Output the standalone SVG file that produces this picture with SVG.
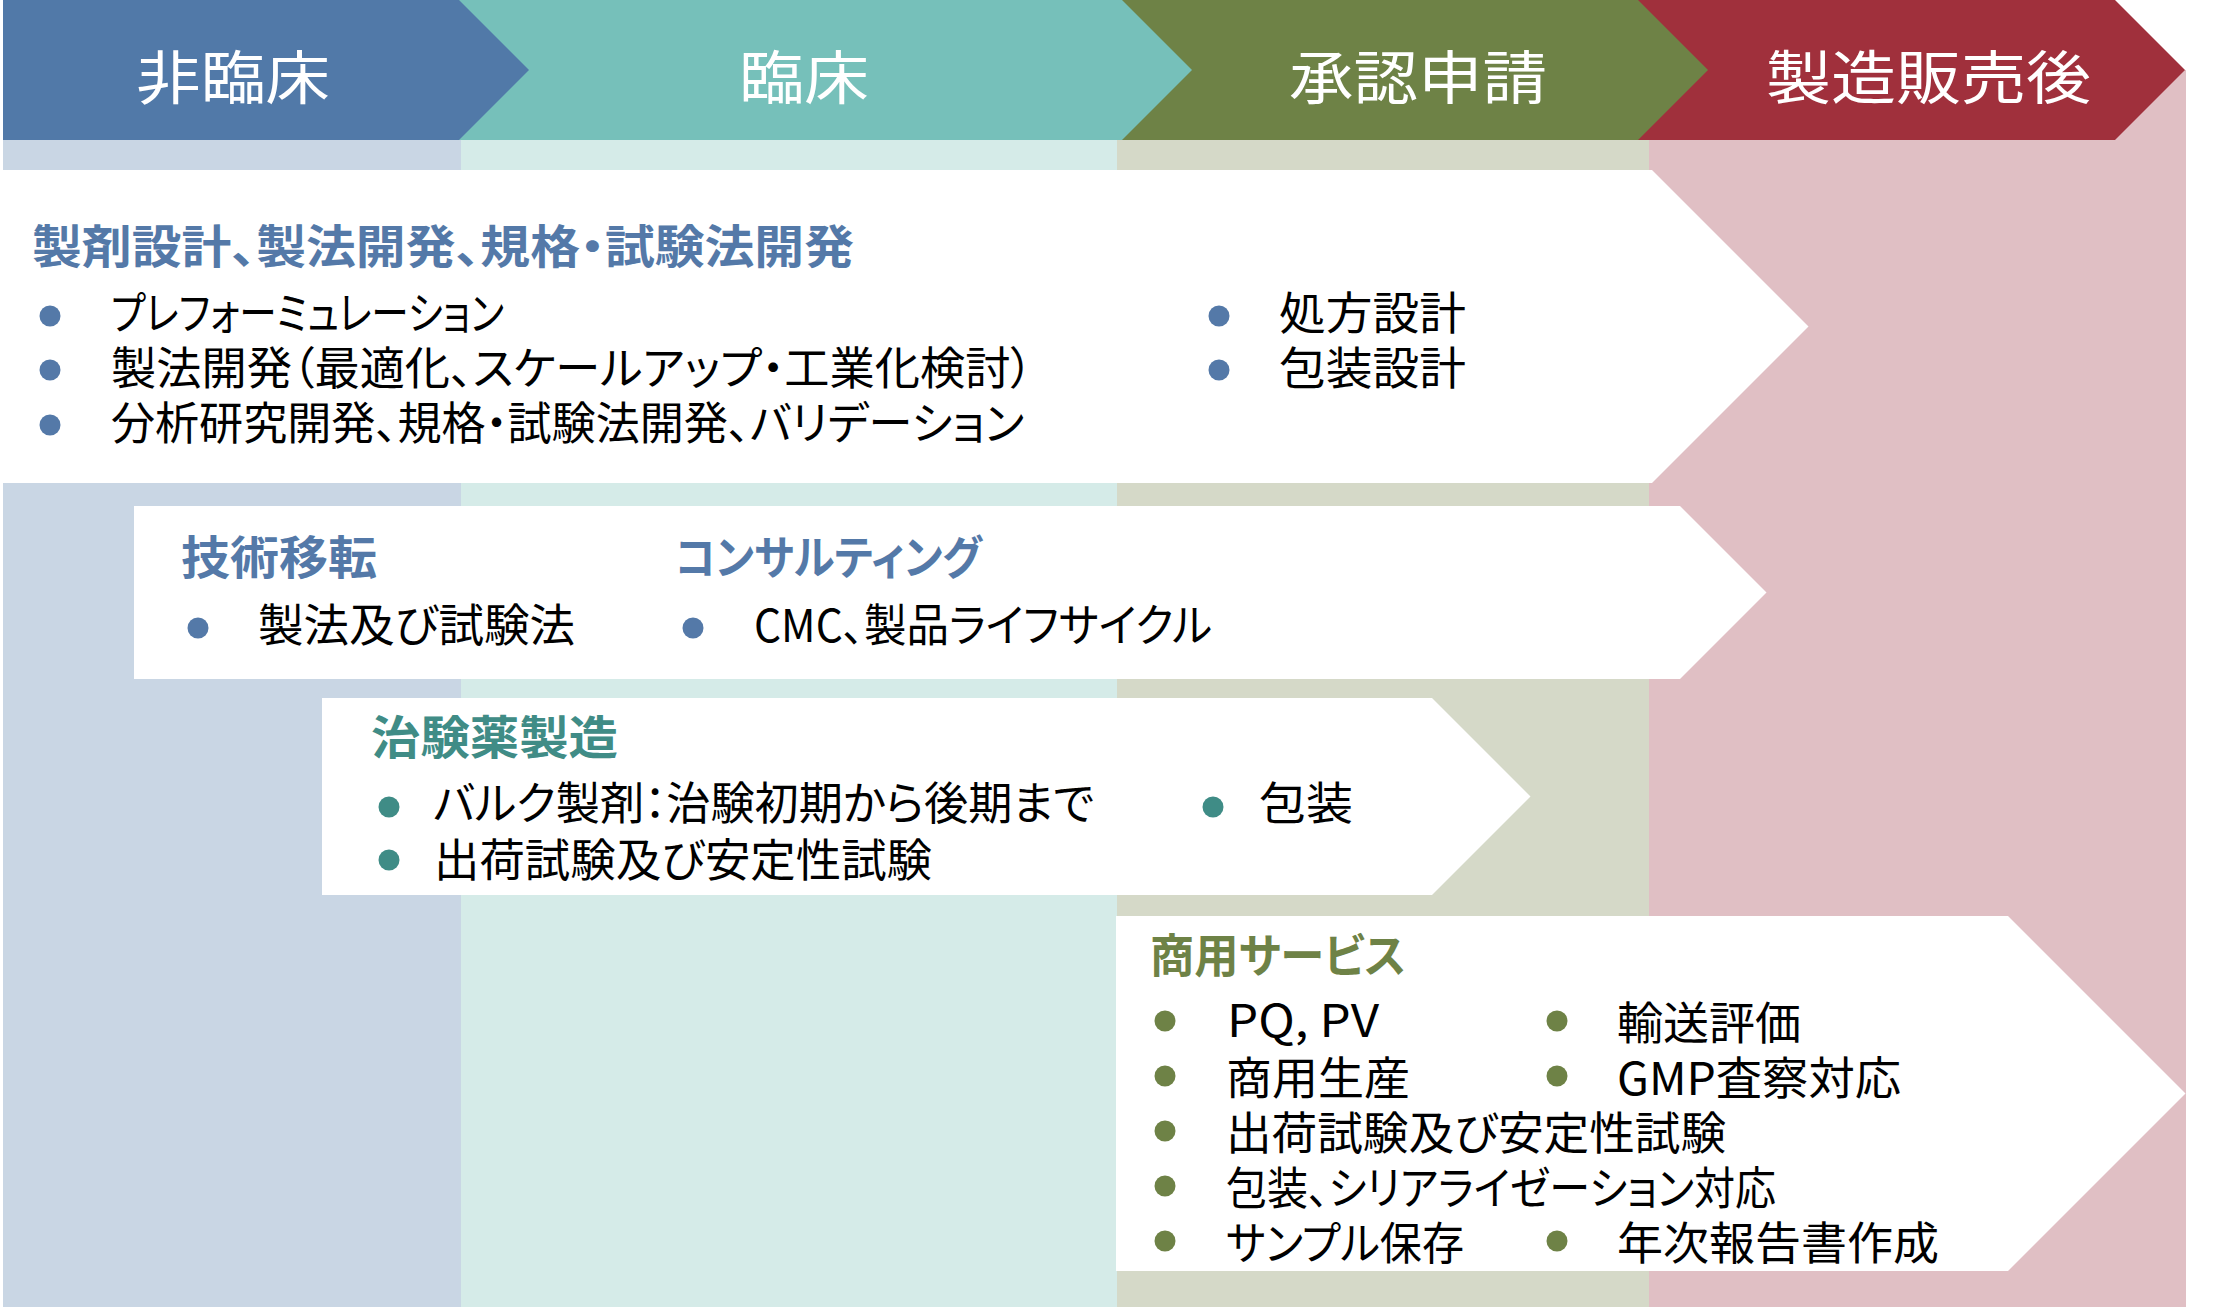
<svg xmlns="http://www.w3.org/2000/svg" width="2216" height="1307" viewBox="0 0 2216 1307">
<style>
text{font-family:"Noto Sans CJK JP","Noto Sans",sans-serif;font-feature-settings:"palt";}
.hd{font-size:58px;fill:#ffffff;}
.ttl{font-size:46px;font-weight:bold;}
.tb{fill:#5479A8;}
.tt{fill:#408C86;}
.to{fill:#6E8246;}
.bd{font-size:45px;fill:#000000;}
.db{fill:#5479A8;}
.dt{fill:#3F8C86;}
.do{fill:#6E8246;}
.box{fill:#ffffff;}
</style>
<rect width="2216" height="1307" fill="#ffffff"/>
<g id="columns">
<rect x="3" y="140" width="458" height="1167" fill="#C9D6E4"/>
<rect x="461" y="140" width="656" height="1167" fill="#D5EBE8"/>
<rect x="1117" y="140" width="532" height="1167" fill="#D5D9C8"/>
<rect x="1649" y="70" width="537" height="1237" fill="#E0BFC4"/>
</g>
<g id="header">
<g id="phase-postmarket">
<path d="M1638,0 H2115 L2185,70 L2115,140 H1638 Z" fill="#A0303C"/>
<text class="hd" x="1766" y="99" textLength="325" lengthAdjust="spacingAndGlyphs">製造販売後</text>
</g>
<g id="phase-approval">
<path d="M1122,0 H1638 L1708,70 L1638,140 H1122 Z" fill="#6E8246"/>
<text class="hd" x="1289" y="99" textLength="258" lengthAdjust="spacingAndGlyphs">承認申請</text>
</g>
<g id="phase-clinical">
<path d="M459,0 H1122 L1192,70 L1122,140 H459 Z" fill="#76C0BA"/>
<text class="hd" x="739" y="99" textLength="130" lengthAdjust="spacingAndGlyphs">臨床</text>
</g>
<g id="phase-nonclinical">
<path d="M3,0 H459 L529,70 L459,140 H3 Z" fill="#5179A8"/>
<text class="hd" x="136" y="99" textLength="194" lengthAdjust="spacingAndGlyphs">非臨床</text>
</g>
</g>
<g id="box-formulation">
<path class="box" d="M3,170 H1652 L1808.5,326.5 L1652,483 H3 Z"/>
<text class="ttl tb" x="32" y="263" textLength="822" lengthAdjust="spacingAndGlyphs">製剤設計、製法開発、規格・試験法開発</text>
<circle class="db" cx="50" cy="316" r="10.5"/>
<circle class="db" cx="50" cy="370" r="10.5"/>
<circle class="db" cx="50" cy="425" r="10.5"/>
<text class="bd" x="111" y="330" textLength="393" lengthAdjust="spacingAndGlyphs">プレフォーミュレーション</text>
<text class="bd" x="111" y="385" textLength="922" lengthAdjust="spacingAndGlyphs">製法開発（最適化、スケールアップ・工業化検討）</text>
<text class="bd" x="111" y="440" textLength="913" lengthAdjust="spacingAndGlyphs">分析研究開発、規格・試験法開発、バリデーション</text>
<circle class="db" cx="1219" cy="316" r="10.5"/>
<circle class="db" cx="1219" cy="370" r="10.5"/>
<text class="bd" x="1279" y="330" textLength="187" lengthAdjust="spacingAndGlyphs">処方設計</text>
<text class="bd" x="1279" y="385" textLength="187" lengthAdjust="spacingAndGlyphs">包装設計</text>
</g>
<g id="box-transfer">
<path class="box" d="M134,506 H1680 L1766.5,592.5 L1680,679 H134 Z"/>
<text class="ttl tb" x="181" y="574" textLength="196" lengthAdjust="spacingAndGlyphs">技術移転</text>
<text class="ttl tb" x="675" y="574" textLength="307" lengthAdjust="spacingAndGlyphs">コンサルティング</text>
<circle class="db" cx="198" cy="628" r="10.5"/>
<circle class="db" cx="693" cy="628" r="10.5"/>
<text class="bd" x="258" y="642" textLength="317" lengthAdjust="spacingAndGlyphs">製法及び試験法</text>
<text class="bd" x="754" y="642" textLength="458" lengthAdjust="spacingAndGlyphs">CMC、製品ライフサイクル</text>
</g>
<g id="box-clinical-supply">
<path class="box" d="M322,698 H1432 L1530.5,796.5 L1432,895 H322 Z"/>
<text class="ttl tt" x="371" y="754" textLength="247" lengthAdjust="spacingAndGlyphs">治験薬製造</text>
<circle class="dt" cx="389" cy="807" r="10.5"/>
<circle class="dt" cx="389" cy="860" r="10.5"/>
<text class="bd" x="433" y="820" textLength="661" lengthAdjust="spacingAndGlyphs">バルク製剤：治験初期から後期まで</text>
<text class="bd" x="434" y="877" textLength="498" lengthAdjust="spacingAndGlyphs">出荷試験及び安定性試験</text>
<circle class="dt" cx="1213" cy="807" r="10.5"/>
<text class="bd" x="1259" y="820" textLength="94" lengthAdjust="spacingAndGlyphs">包装</text>
</g>
<g id="box-commercial">
<path class="box" d="M1116,916 H2008 L2185.5,1093.5 L2008,1271 H1116 Z"/>
<text class="ttl to" x="1150" y="972" textLength="256" lengthAdjust="spacingAndGlyphs">商用サービス</text>
<circle class="do" cx="1165" cy="1021" r="10.5"/>
<circle class="do" cx="1165" cy="1076" r="10.5"/>
<circle class="do" cx="1165" cy="1131" r="10.5"/>
<circle class="do" cx="1165" cy="1186" r="10.5"/>
<circle class="do" cx="1165" cy="1241" r="10.5"/>
<text class="bd" x="1227" y="1037" textLength="152" lengthAdjust="spacingAndGlyphs">PQ, PV</text>
<text class="bd" x="1226" y="1095" textLength="184" lengthAdjust="spacingAndGlyphs">商用生産</text>
<text class="bd" x="1226" y="1150" textLength="500" lengthAdjust="spacingAndGlyphs">出荷試験及び安定性試験</text>
<text class="bd" x="1226" y="1205" textLength="550" lengthAdjust="spacingAndGlyphs">包装、シリアライゼーション対応</text>
<text class="bd" x="1226" y="1260" textLength="238" lengthAdjust="spacingAndGlyphs">サンプル保存</text>
<circle class="do" cx="1557" cy="1021" r="10.5"/>
<circle class="do" cx="1557" cy="1076" r="10.5"/>
<circle class="do" cx="1557" cy="1241" r="10.5"/>
<text class="bd" x="1617" y="1040" textLength="184" lengthAdjust="spacingAndGlyphs">輸送評価</text>
<text class="bd" x="1617" y="1095" textLength="284" lengthAdjust="spacingAndGlyphs">GMP査察対応</text>
<text class="bd" x="1617" y="1260" textLength="322" lengthAdjust="spacingAndGlyphs">年次報告書作成</text>
</g>
<g id="connectors"></g>
</svg>
